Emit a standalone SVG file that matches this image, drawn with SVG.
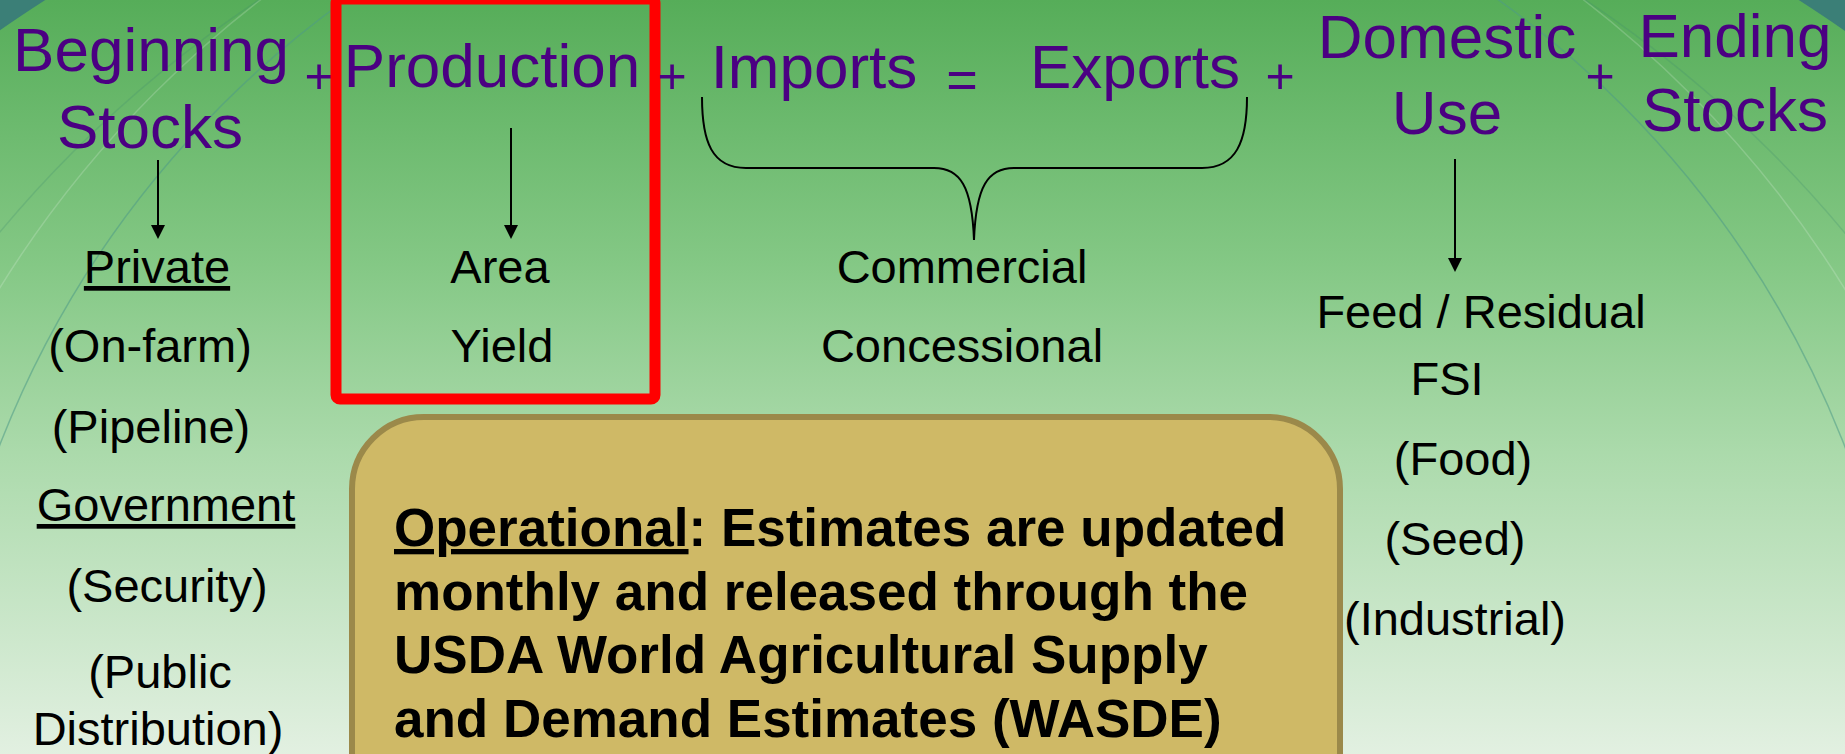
<svg xmlns="http://www.w3.org/2000/svg" width="1845" height="754" viewBox="0 0 1845 754">
  <defs>
    <linearGradient id="bg" x1="0" y1="0" x2="0" y2="1">
      <stop offset="0" stop-color="#56ad59"/>
      <stop offset="0.35" stop-color="#84c885"/>
      <stop offset="0.6" stop-color="#abdaab"/>
      <stop offset="1" stop-color="#e2f0e1"/>
    </linearGradient>
    <marker id="ah" markerUnits="userSpaceOnUse" viewBox="0 0 14 14" markerWidth="14" markerHeight="14" refX="8" refY="7" orient="auto">
      <path d="M0,0 L14,7 L0,14 Z" fill="#000"/>
    </marker>
    <style>
      .h { font-family: "Liberation Sans", Arial, sans-serif; font-size: 62px; fill: #4b0082; text-anchor: middle; }
      .op { font-family: "Liberation Sans", Arial, sans-serif; font-size: 50px; fill: #4b0082; text-anchor: middle; }
      .t { font-family: "Liberation Sans", Arial, sans-serif; font-size: 47px; fill: #000; text-anchor: middle; }
      .u { text-decoration: underline; }
      .b { font-family: "Liberation Sans", Arial, sans-serif; font-size: 53px; font-weight: bold; fill: #000; }
      .arr { stroke: #000; stroke-width: 2; fill: none; marker-end: url(#ah); }
      .arc { fill: none; stroke-width: 1.5; }
    </style>
  </defs>

  <!-- background -->
  <rect x="0" y="0" width="1845" height="754" fill="url(#bg)"/>
  <path fill-rule="evenodd" fill="#3b7f77" d="M0 0H1845V754H0Z M-699,1364 a1621,1621 0 1,0 3242,0 a1621,1621 0 1,0 -3242,0Z"/>
  <circle class="arc" cx="922" cy="805" r="990" stroke="#4f9a86" stroke-opacity="0.55"/>
  <circle class="arc" cx="922" cy="860" r="1085" stroke="#ffffff" stroke-opacity="0.18"/>
  <circle class="arc" cx="922" cy="1000" r="1200" stroke="#3f8a70" stroke-opacity="0.25"/>

  <!-- connectors -->
  <g id="connectors">
    <line class="arr" x1="158" y1="160" x2="158" y2="233"/>
    <line class="arr" x1="511" y1="128" x2="511" y2="233"/>
    <line class="arr" x1="1455" y1="159" x2="1455" y2="266"/>
    <path d="M702,97 C702,142 712,168 746,168 L934,168 C960,168 972,186 974,240 C976,186 988,168 1014,168 L1202,168 C1236,168 1247,142 1247,97" fill="none" stroke="#000" stroke-width="2"/>
  </g>

  <!-- equation headings -->
  <g id="beginning-stocks">
    <text class="h" x="151" y="71">Beginning</text>
    <text class="h" x="150" y="148">Stocks</text>
  </g>
  <text class="op" x="319" y="93">+</text>
  <g id="production">
    <rect x="336" y="-1" width="319" height="400" rx="4" fill="none" stroke="#ff0000" stroke-width="11"/>
    <text class="h" x="492" y="87">Production</text>
  </g>
  <text class="op" x="672" y="93">+</text>
  <g id="imports">
    <text class="h" x="814" y="88">Imports</text>
  </g>
  <text class="op" x="962" y="98" style="font-size:54px">=</text>
  <g id="exports">
    <text class="h" x="1135" y="88">Exports</text>
  </g>
  <text class="op" x="1280" y="93">+</text>
  <g id="domestic-use">
    <text class="h" x="1447" y="58">Domestic</text>
    <text class="h" x="1447" y="134">Use</text>
  </g>
  <text class="op" x="1600" y="93">+</text>
  <g id="ending-stocks">
    <text class="h" x="1735" y="57">Ending</text>
    <text class="h" x="1735" y="131">Stocks</text>
  </g>

  <!-- breakdowns -->
  <g id="stocks-detail">
    <text class="t u" x="157" y="283">Private</text>
    <text class="t" x="150" y="362">(On-farm)</text>
    <text class="t" x="151" y="443">(Pipeline)</text>
    <text class="t u" x="166" y="521">Government</text>
    <text class="t" x="167" y="602">(Security)</text>
    <text class="t" x="160" y="688">(Public</text>
    <text class="t" x="158" y="745">Distribution)</text>
  </g>
  <g id="production-detail">
    <text class="t" x="500" y="283">Area</text>
    <text class="t" x="502" y="362">Yield</text>
  </g>
  <g id="trade-detail">
    <text class="t" x="962" y="283">Commercial</text>
    <text class="t" x="962" y="362">Concessional</text>
  </g>
  <g id="use-detail">
    <text class="t" x="1481" y="328">Feed / Residual</text>
    <text class="t" x="1447" y="395">FSI</text>
    <text class="t" x="1463" y="475">(Food)</text>
    <text class="t" x="1455" y="555">(Seed)</text>
    <text class="t" x="1455" y="635">(Industrial)</text>
  </g>

  <!-- operational note -->
  <g id="operational-note">
    <rect x="352" y="417" width="988" height="420" rx="72" fill="#cfb966" stroke="#9b894a" stroke-width="6"/>
    <text class="b" x="394" y="546"><tspan class="u">Operational</tspan>: Estimates are updated</text>
    <text class="b" x="394" y="610">monthly and released through the</text>
    <text class="b" x="394" y="673">USDA World Agricultural Supply</text>
    <text class="b" x="394" y="737">and Demand Estimates (WASDE)</text>
  </g>
</svg>
